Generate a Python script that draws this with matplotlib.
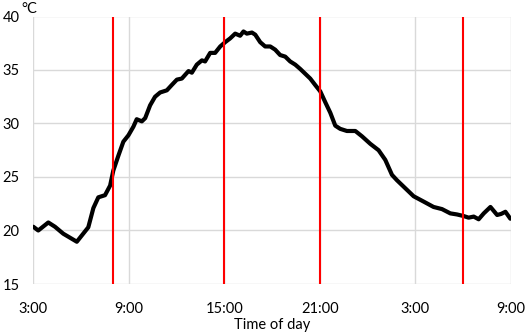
import numpy as np
import matplotlib
matplotlib.use("Agg")
import matplotlib.pyplot as plt

plt.rcParams['font.family'] = ['Lato', 'DejaVu Sans']

# hours since midnight of day 1 (27 = 3:00 next day)
hours = [3.02, 3.33, 3.96, 4.38, 4.90, 5.75, 6.47, 6.79, 7.10, 7.52, 7.84,
         8.04, 8.36, 8.67, 8.99, 9.30, 9.51, 9.83, 10.04, 10.35, 10.66, 10.98,
         11.40, 11.71, 12.03, 12.34, 12.76, 12.97, 13.28, 13.60, 13.80, 14.12,
         14.43, 14.75, 15.06, 15.37, 15.69, 16.00, 16.21, 16.42, 16.74, 16.95,
         17.26, 17.57, 17.89, 18.20, 18.51, 18.83, 19.14, 19.46, 19.77, 20.40,
         20.71, 21.03, 21.34, 21.66, 21.97, 22.28, 22.70, 23.23, 23.65, 24.17,
         24.69, 25.11, 25.53, 25.84, 26.26, 26.89, 27.52, 28.14, 28.67, 29.19,
         29.61, 30.03, 30.34, 30.66, 30.97, 31.29, 31.71, 32.13, 32.38, 32.65,
         32.96]
temps = [20.35, 20.0, 20.75, 20.35, 19.7, 18.95, 20.3, 22.1, 23.1, 23.3, 24.2,
         25.6, 27.0, 28.3, 28.9, 29.7, 30.4, 30.2, 30.5, 31.7, 32.5, 32.9,
         33.1, 33.6, 34.1, 34.2, 34.9, 34.75, 35.5, 35.9, 35.8, 36.6,
         36.6, 37.2, 37.6, 37.95, 38.4, 38.2, 38.6, 38.4, 38.5, 38.3,
         37.6, 37.2, 37.2, 36.9, 36.4, 36.25, 35.8, 35.5, 35.1, 34.2,
         33.6, 33.0, 32.0, 31.0, 29.8, 29.5, 29.3, 29.3, 28.8, 28.1,
         27.5, 26.6, 25.2, 24.7, 24.1, 23.2, 22.7, 22.2, 22.0, 21.6,
         21.5, 21.35, 21.2, 21.3, 21.05, 21.6, 22.2, 21.45, 21.55, 21.75,
         21.1]

markers_h = [8, 15, 21, 30]
x_ticks = [3, 9, 15, 21, 27, 33]
x_labels = ['3:00', '9:00', '15:00', '21:00', '3:00', '9:00']
y_ticks = [15, 20, 25, 30, 35, 40]

fig = plt.figure(figsize=(5.26, 3.34), dpi=100)
ax = fig.add_axes([33/526, 1 - 284/334, 478/526, 267.5/334])

ax.plot(hours, temps, color='black', linewidth=3, solid_joinstyle='round',
        solid_capstyle='round', zorder=3)
for h in markers_h:
    ax.axvline(h, color='#FF0000', linewidth=1.5, zorder=4)

ax.set_xlim(3, 33)
ax.set_ylim(15, 40)
ax.set_xticks(x_ticks)
ax.set_xticklabels(x_labels)
ax.set_yticks(y_ticks)
ax.grid(True, color='#D9D9D9', linewidth=1)
ax.set_axisbelow(True)
for s in ax.spines.values():
    s.set_visible(False)
ax.tick_params(axis='both', length=0, labelsize=10.5, colors='black')
ax.tick_params(axis='x', pad=13)
ax.tick_params(axis='y', pad=9.5)
ax.set_xlabel('Time of day', fontsize=10.5, labelpad=1.5)

fig.text(21/526, 1 - 13/334, '°C', fontsize=10.5, va='baseline', ha='left')

fig.savefig('out.png', dpi=100)
